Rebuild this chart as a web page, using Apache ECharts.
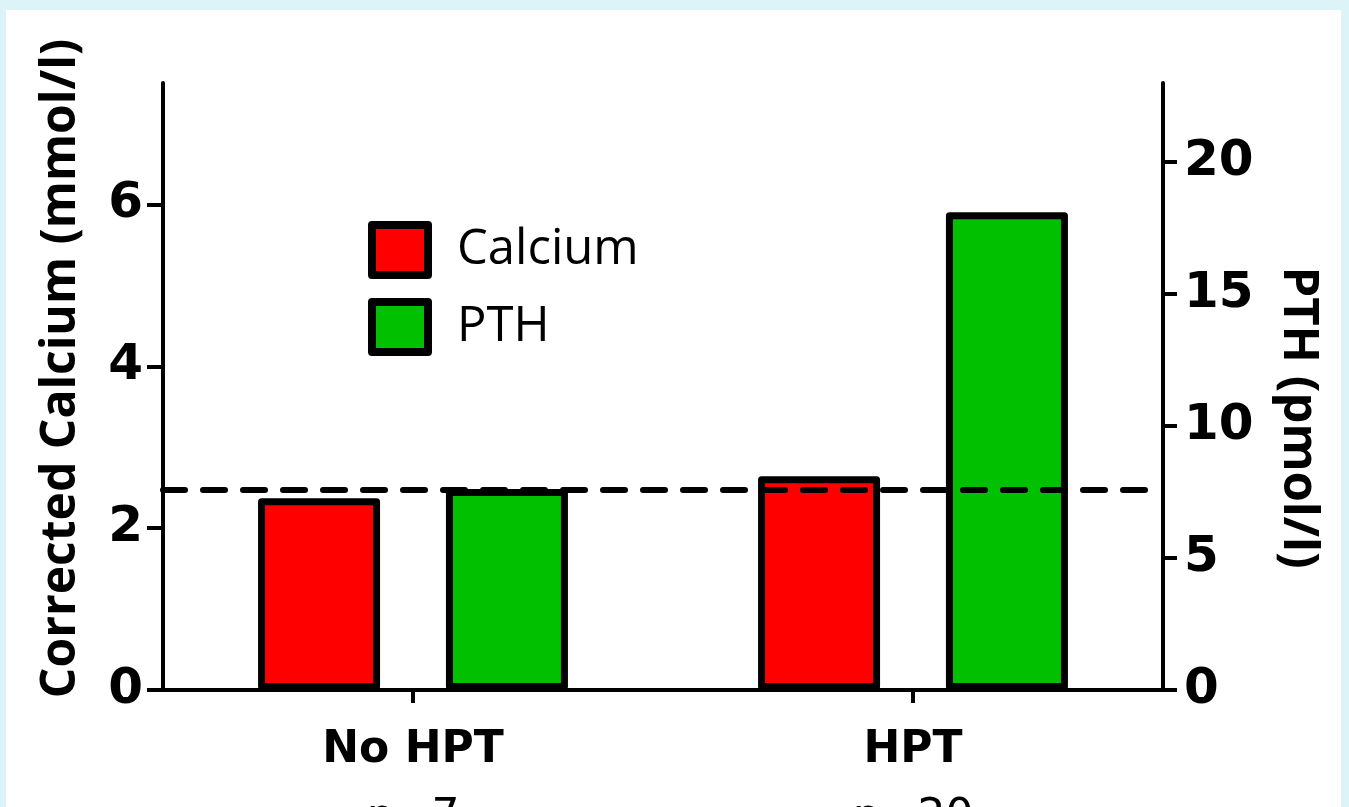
<!DOCTYPE html>
<html>
<head>
<meta charset="utf-8">
<script src="https://cdn.jsdelivr.net/npm/echarts@6/dist/echarts.min.js"></script>
<style>
  html, body { margin: 0; padding: 0; background: #dcf3f8; overflow: hidden; }
  #panel { position: absolute; left: 6px; top: 10px; width: 1335px; height: 797px; background: #ffffff; }
  #chart { position: absolute; left: 0; top: 0; width: 1349px; height: 807px; }
</style>
</head>
<body>
<div id="panel"></div>
<div id="chart"></div>
<script>
// Groups and their sizes
const categories = ['No HPT', 'HPT'];
const groupSizes = ['n=7', 'n=20'];

// Mean corrected calcium (mmol/l) and PTH (pmol/l) per group
const calcium = [2.37, 2.64];
const pth = [7.62, 18.1];

// Upper limit of the PTH reference range (pmol/l)
const pthUpperLimit = 7.6;

// Axis ranges and tick values
const calciumMax = 7.5;
const pthMax = 23;
const calciumTicks = [0, 2, 4, 6];
const pthTicks = [0, 5, 10, 15, 20];

const BLACK = '#000000';
const tickFont = { fontFamily: 'DejaVu Sans', fontWeight: 'bold', fontSize: 50, color: BLACK };
const titleFont = { fontFamily: 'Open Sans', fontWeight: 'bold', fontSize: 48, color: BLACK };

const chart = echarts.init(document.getElementById('chart'), null, { renderer: 'canvas' });

chart.setOption({
  backgroundColor: 'transparent',
  animation: false,
  grid: { left: 163, right: 186, top: 83, bottom: 117, containLabel: false, outerBoundsMode: 'none' },
  legend: {
    data: ['Calcium', 'PTH'],
    orient: 'vertical',
    left: 368,
    top: 221,
    padding: 0,
    itemWidth: 56,
    itemHeight: 50,
    itemGap: 19,
    icon: 'rect',
    itemStyle: { borderColor: BLACK, borderWidth: 8 },
    textStyle: { fontFamily: 'Open Sans', fontSize: 49, color: BLACK, padding: [0, 0, 0, 24] },
    selectedMode: false
  },
  xAxis: {
    type: 'category',
    data: categories,
    boundaryGap: true,
    axisLine: { show: true, lineStyle: { color: BLACK, width: 4 } },
    axisTick: { show: true, alignWithLabel: true, length: 13, lineStyle: { color: BLACK, width: 4 } },
    axisLabel: {
      margin: 28,
      formatter: (value, index) => '{a|' + value + '}\n{b|' + groupSizes[index] + '}',
      rich: {
        a: { fontFamily: 'DejaVu Sans', fontWeight: 'bold', fontSize: 44, lineHeight: 66, color: BLACK },
        b: { fontFamily: 'DejaVu Sans', fontWeight: 'normal', fontSize: 44, lineHeight: 70, color: BLACK }
      }
    },
    splitLine: { show: false }
  },
  yAxis: [
    {
      type: 'value',
      position: 'left',
      min: 0,
      max: calciumMax,
      name: 'Corrected Calcium (mmol/l)',
      nameLocation: 'middle',
      nameGap: 78,
      nameTextStyle: Object.assign({}, titleFont, { padding: [0, 0, 0, 36] }),
      axisLine: { show: true, lineStyle: { color: BLACK, width: 4 } },
      axisTick: { show: true, length: 16, customValues: calciumTicks, lineStyle: { color: BLACK, width: 4 } },
      axisLabel: Object.assign({ margin: 20, customValues: calciumTicks }, tickFont),
      splitLine: { show: false }
    },
    {
      type: 'value',
      position: 'right',
      min: 0,
      max: pthMax,
      name: 'PTH (pmol/l)',
      nameLocation: 'middle',
      nameRotate: -90,
      nameGap: 110,
      nameTextStyle: Object.assign({}, titleFont, { fontSize: 49, padding: [0, 0, 0, 62] }),
      axisLine: { show: true, lineStyle: { color: BLACK, width: 4 } },
      axisTick: { show: true, length: 14, customValues: pthTicks, lineStyle: { color: BLACK, width: 4 } },
      axisLabel: Object.assign({ margin: 21, customValues: pthTicks }, tickFont),
      splitLine: { show: false }
    }
  ],
  series: [
    {
      name: 'Reference',
      type: 'line',
      yAxisIndex: 1,
      data: [null, null],
      z: 1,
      silent: true,
      showSymbol: false,
      markLine: {
        silent: true,
        symbol: ['none', 'none'],
        label: { show: false },
        lineStyle: { color: BLACK, width: 6, type: [22, 18], cap: 'round' },
        data: [{ yAxis: pthUpperLimit }]
      }
    },
    {
      name: 'Calcium',
      type: 'bar',
      yAxisIndex: 0,
      data: calcium,
      barWidth: 122,
      barGap: '54%',
      z: 3,
      itemStyle: { color: '#ff0000', borderColor: BLACK, borderWidth: 7, borderJoin: 'round' }
    },
    {
      name: 'PTH',
      type: 'bar',
      yAxisIndex: 1,
      data: pth,
      barWidth: 122,
      barGap: '54%',
      z: 3,
      itemStyle: { color: '#00c000', borderColor: BLACK, borderWidth: 7, borderJoin: 'round' }
    }
  ]
});
</script>
</body>
</html>
